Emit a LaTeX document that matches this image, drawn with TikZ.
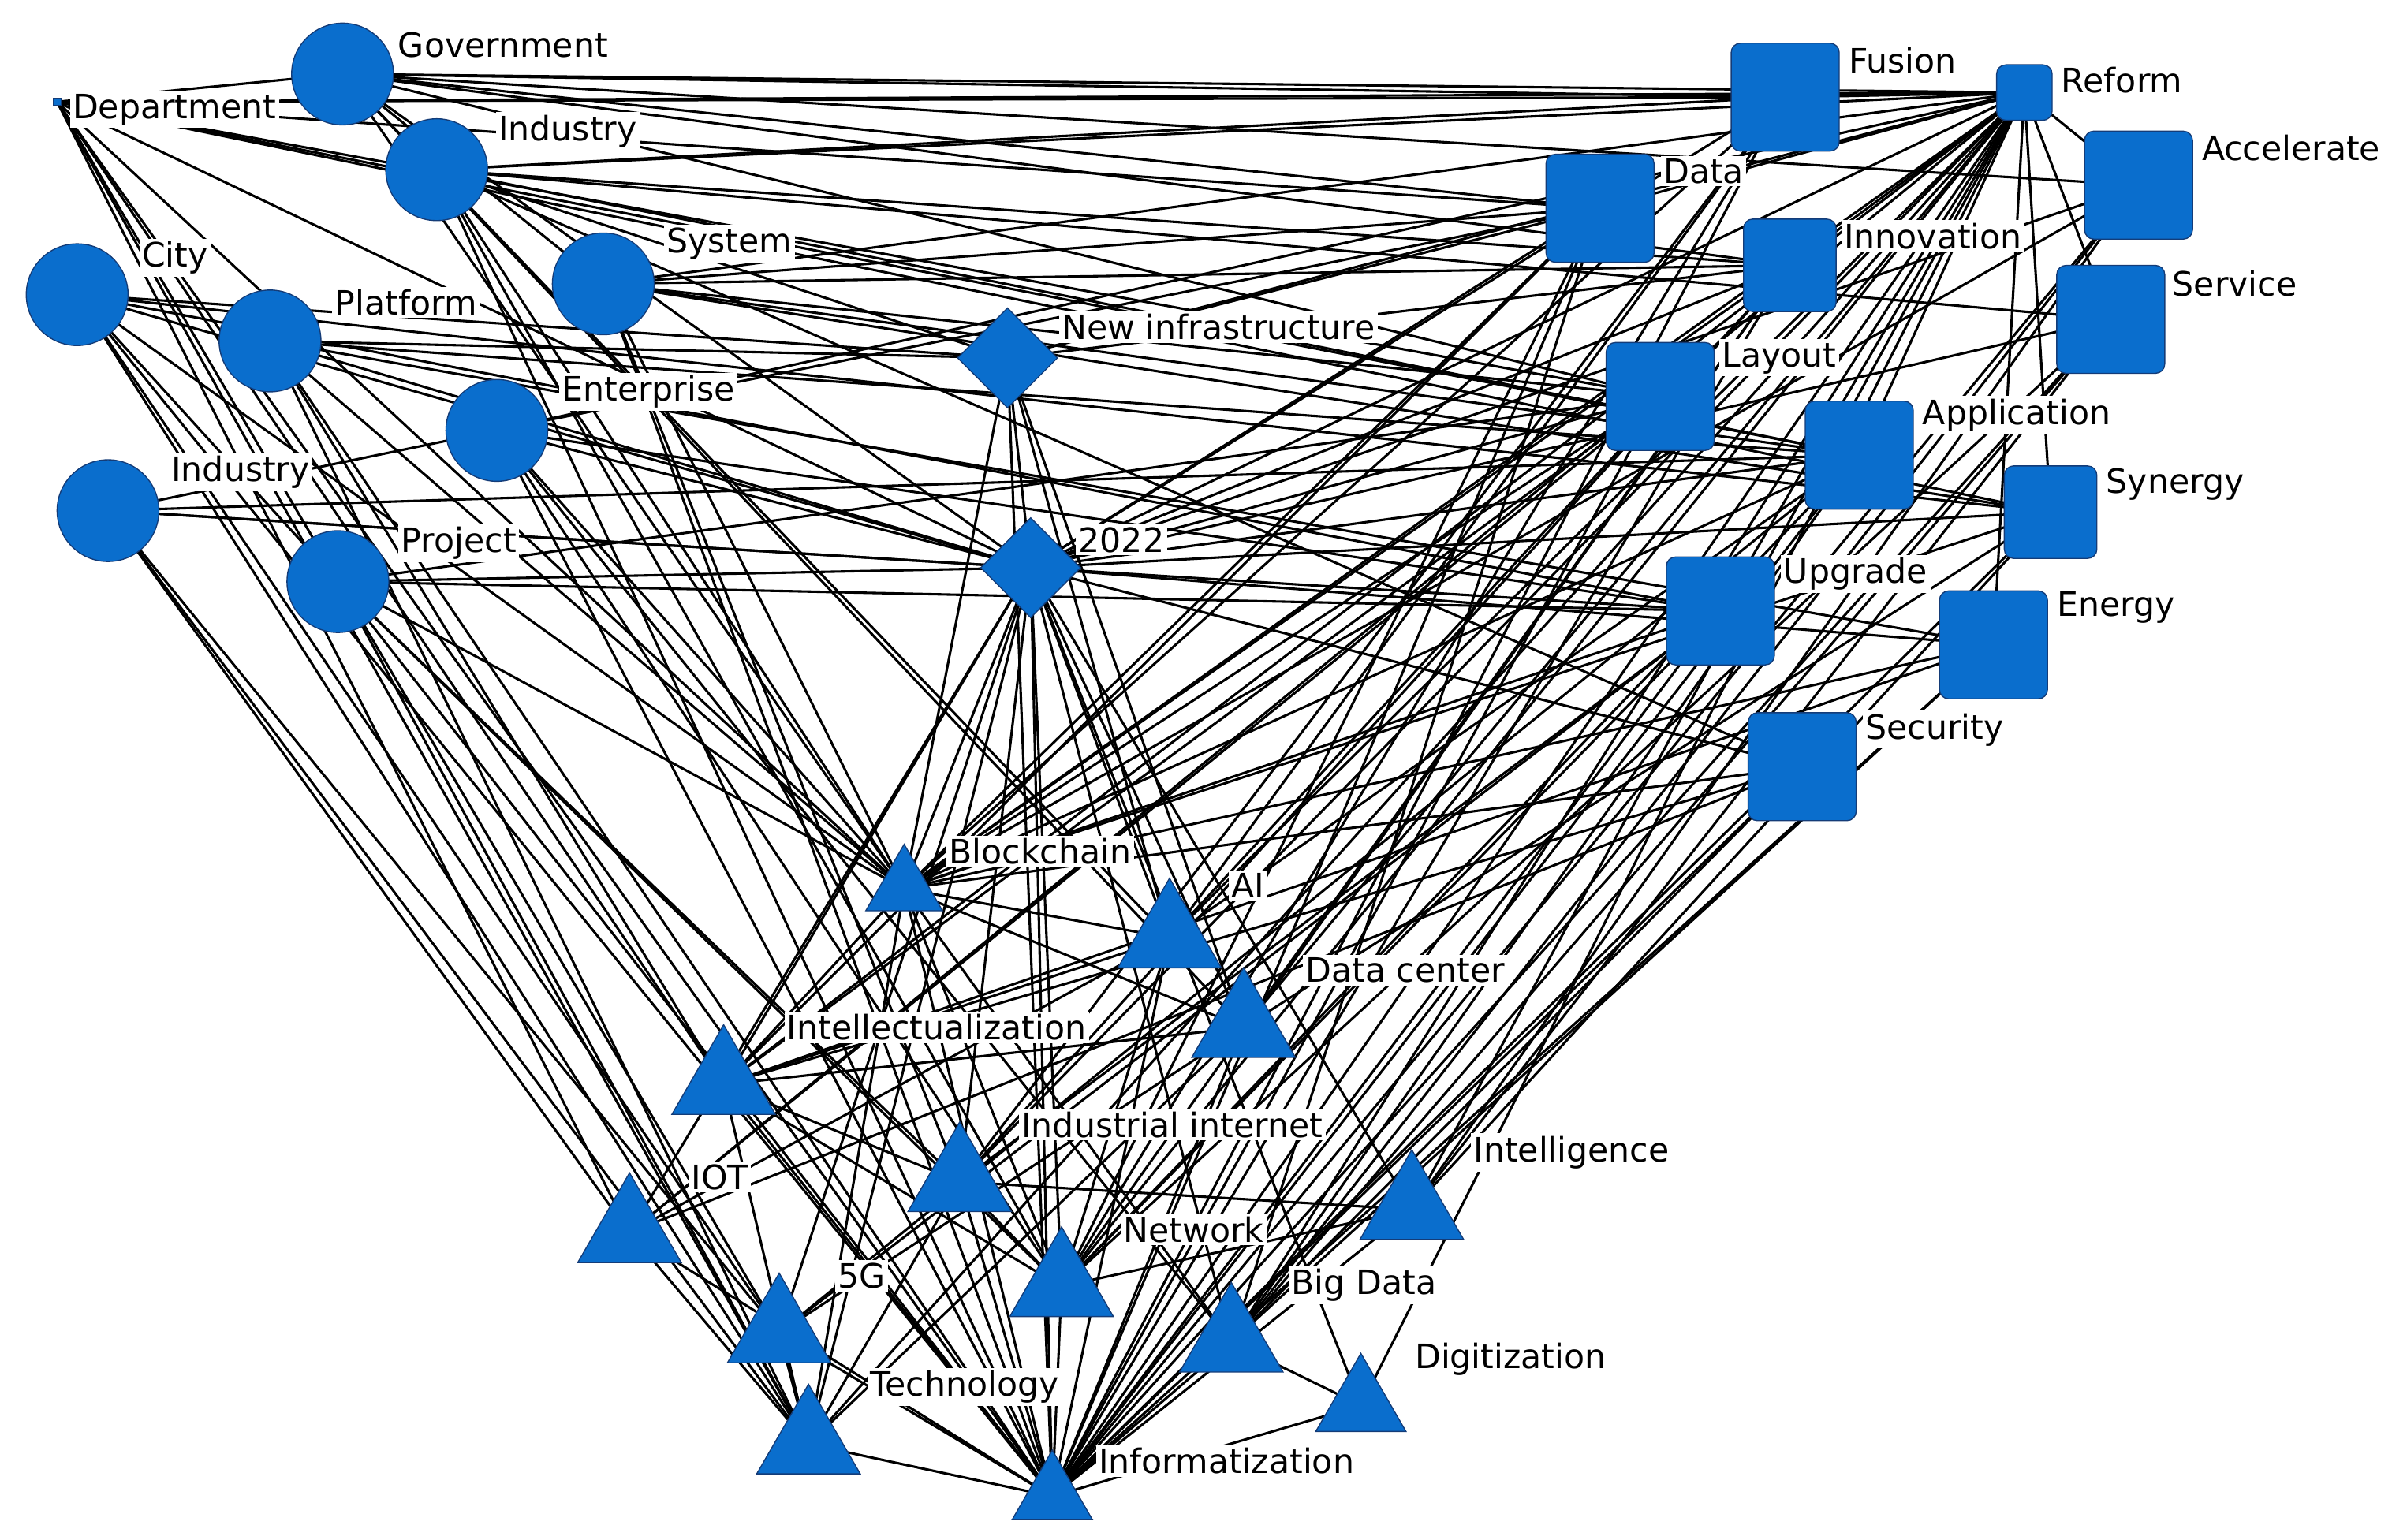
\documentclass[tikz,border=0pt]{standalone}
\usepackage{fontspec}
\setmainfont{DejaVu Sans}
\usetikzlibrary{shapes.geometric}
\pgfdeclarelayer{bg}
\pgfsetlayers{bg,main}
\definecolor{nb}{RGB}{10,110,205}
\definecolor{nd}{RGB}{20,60,120}
\begin{document}
\begin{tikzpicture}[x=0.02cm,y=-0.02cm,
  circ/.style={circle,fill=nb,draw=nd,line width=0.4pt,minimum size=1.32cm,inner sep=0},
  sq/.style={rectangle,rounded corners=0.12cm,fill=nb,draw=nd,line width=0.4pt,minimum size=#1,inner sep=0},
  dia/.style={diamond,fill=nb,draw=nd,line width=0.4pt,minimum size=1.3cm,inner sep=0},
  tri/.style={regular polygon,regular polygon sides=3,fill=nb,draw=nd,line width=0.4pt,minimum size=#1,inner sep=0},
  lab/.style={fill=white,inner sep=1pt,anchor=west,font=\fontsize{12.4}{15}\selectfont},
  edge/.style={line width=0.9pt,black}]
\useasboundingbox (0,0) rectangle (1560,998);
% circles
\node[rectangle,fill=nb,draw=nd,minimum size=0.1cm,inner sep=0] (dep) at (37,66) {};
\node[circ] (gov) at (222,48) {};
\node[circ] (ind1) at (283,110) {};
\node[circ] (city) at (50,191) {};
\node[circ] (sys) at (391,184) {};
\node[circ] (plat) at (175,221) {};
\node[circ] (ent) at (322,279) {};
\node[circ] (ind2) at (70,331) {};
\node[circ] (proj) at (219,377) {};
% diamonds
\node[dia] (newi) at (653,232) {};
\node[dia] (y22) at (668,368) {};
% squares
\node[sq=1.4cm] (fus) at (1157,63) {};
\node[sq=0.72cm] (ref) at (1312,60) {};
\node[sq=1.4cm] (acc) at (1386,120) {};
\node[sq=1.4cm] (data) at (1037,135) {};
\node[sq=1.2cm] (inn) at (1160,172) {};
\node[sq=1.4cm] (serv) at (1368,207) {};
\node[sq=1.4cm] (lay) at (1076,257) {};
\node[sq=1.4cm] (app) at (1205,295) {};
\node[sq=1.2cm] (syn) at (1329,332) {};
\node[sq=1.4cm] (upg) at (1115,396) {};
\node[sq=1.4cm] (ene) at (1292,418) {};
\node[sq=1.4cm] (sec) at (1168,497) {};
% triangles
\node[tri=1.15cm] (blk) at (586,576) {};
\node[tri=1.55cm] (ai) at (758,608) {};
\node[tri=1.55cm] (dc) at (806,666) {};
\node[tri=1.55cm] (intel) at (469,703) {};
\node[tri=1.55cm] (ii) at (622,766) {};
\node[tri=1.55cm] (intg) at (915,784) {};
\node[tri=1.55cm] (iot) at (408,799) {};
\node[tri=1.55cm] (net) at (688,834) {};
\node[tri=1.55cm] (fiveg) at (505,864) {};
\node[tri=1.55cm] (bd) at (798,870) {};
\node[tri=1.35cm] (dig) at (882,911) {};
\node[tri=1.55cm] (tech) at (524,936) {};
\node[tri=1.2cm] (info) at (682,970) {};
% labels
\node[lab] at (45,71) {Department};
\node[lab] at (256,29) {Government};
\node[lab] at (321,85) {Industry};
\node[lab] at (90,167) {City};
\node[lab] at (430,158) {System};
\node[lab] at (215,196) {Platform};
\node[lab] at (362,254) {Enterprise};
\node[lab] at (109,306) {Industry};
\node[lab] at (258,352) {Project};
\node[lab] at (686,212) {New infrastructure};
\node[lab] at (697,350) {2022};
\node[lab] at (1196,39) {Fusion};
\node[lab] at (1334,52) {Reform};
\node[lab] at (1425,96) {Accelerate};
\node[lab] at (1076,111) {Data};
\node[lab] at (1193,153) {Innovation};
\node[lab] at (1406,184) {Service};
\node[lab] at (1114,232) {Layout};
\node[lab] at (1244,269) {Application};
\node[lab] at (1363,314) {Synergy};
\node[lab] at (1154,372) {Upgrade};
\node[lab] at (1331,394) {Energy};
\node[lab] at (1207,473) {Security};
\node[lab] at (613,552) {Blockchain};
\node[lab] at (796,574) {AI};
\node[lab] at (844,629) {Data center};
\node[lab] at (508,666) {Intellectualization};
\node[lab] at (660,729) {Industrial internet};
\node[lab] at (953,747) {Intelligence};
\node[lab] at (446,763) {IOT};
\node[lab] at (726,797) {Network};
\node[lab] at (541,827) {5G};
\node[lab] at (835,833) {Big Data};
\node[lab] at (915,881) {Digitization};
\node[lab] at (562,899) {Technology};
\node[lab] at (710,947) {Informatization};
\begin{pgfonlayer}{bg}
\foreach \a/\b in {
gov/fus,gov/ref,gov/data,gov/inn,gov/acc,dep/ref,dep/fus,dep/data,dep/lay,dep/app,dep/syn,
ind1/ref,ind1/fus,ind1/inn,ind1/serv,ind1/sec,sys/ref,sys/inn,sys/data,sys/lay,sys/app,
city/syn,city/upg,city/y22,city/proj,plat/y22,plat/app,plat/ene,ent/ref,ent/data,ent/y22,ent/blk,
ind2/y22,ind2/ent,ind2/app,proj/y22,proj/lay,proj/upg,
dep/blk,dep/intel,dep/iot,dep/tech,dep/fiveg,dep/info,city/blk,city/tech,city/info,city/fiveg,
ind2/iot,ind2/tech,ind2/fiveg,proj/blk,proj/tech,proj/info,proj/net,proj/ii,plat/blk,plat/info,plat/tech,plat/intel,
gov/blk,gov/ai,gov/dc,ind1/blk,ind1/info,ind1/net,sys/blk,sys/info,sys/ii,ent/info,ent/net,ent/bd,
y22/blk,y22/ai,y22/dc,y22/intel,y22/ii,y22/intg,y22/iot,y22/net,y22/fiveg,y22/bd,y22/dig,y22/tech,y22/info,
y22/fus,y22/ref,y22/acc,y22/data,y22/inn,y22/serv,y22/lay,y22/app,y22/syn,y22/upg,y22/ene,y22/sec,y22/gov,y22/dep,y22/ind2,
newi/y22,newi/ref,newi/blk,newi/info,newi/ind1,newi/city,newi/ai,newi/dc,newi/data,newi/inn,newi/plat,
ref/blk,ref/ai,ref/dc,ref/intel,ref/ii,ref/intg,ref/net,ref/bd,ref/info,ref/tech,ref/iot,ref/dig,
fus/blk,fus/ai,fus/info,fus/ii,fus/net,data/blk,data/intel,data/info,data/bd,data/net,
acc/blk,acc/info,acc/intg,acc/bd,inn/blk,inn/ai,inn/info,inn/net,inn/dc,inn/ii,
serv/info,serv/bd,serv/net,serv/intg,lay/blk,lay/info,lay/intel,lay/iot,
app/blk,app/info,app/ai,app/net,app/bd,app/fiveg,syn/info,syn/blk,syn/dc,syn/intg,
upg/info,upg/blk,upg/ii,upg/fiveg,upg/net,ene/info,ene/bd,ene/blk,ene/intel,
sec/info,sec/blk,sec/intel,sec/bd,sec/iot,
blk/ai,blk/dc,blk/info,blk/tech,blk/net,blk/bd,blk/intel,ai/info,ai/intel,ai/iot,ai/net,
dc/info,dc/intel,dc/fiveg,dc/tech,intel/info,intel/tech,intel/ii,intel/net,ii/info,ii/tech,ii/net,
intg/info,intg/net,intg/ii,iot/info,iot/tech,net/info,fiveg/info,fiveg/tech,bd/info,bd/dig,dig/info,tech/info,
fus/ref,ref/acc,ref/serv,ref/syn,ref/inn,ref/app,ref/ene,ref/upg,data/ref,gov/sys,dep/gov,gov/lay,ind1/app,sys/syn,ent/upg}
  \draw[edge] (\a.center) -- (\b.center);
\end{pgfonlayer}
\end{tikzpicture}
\end{document}
